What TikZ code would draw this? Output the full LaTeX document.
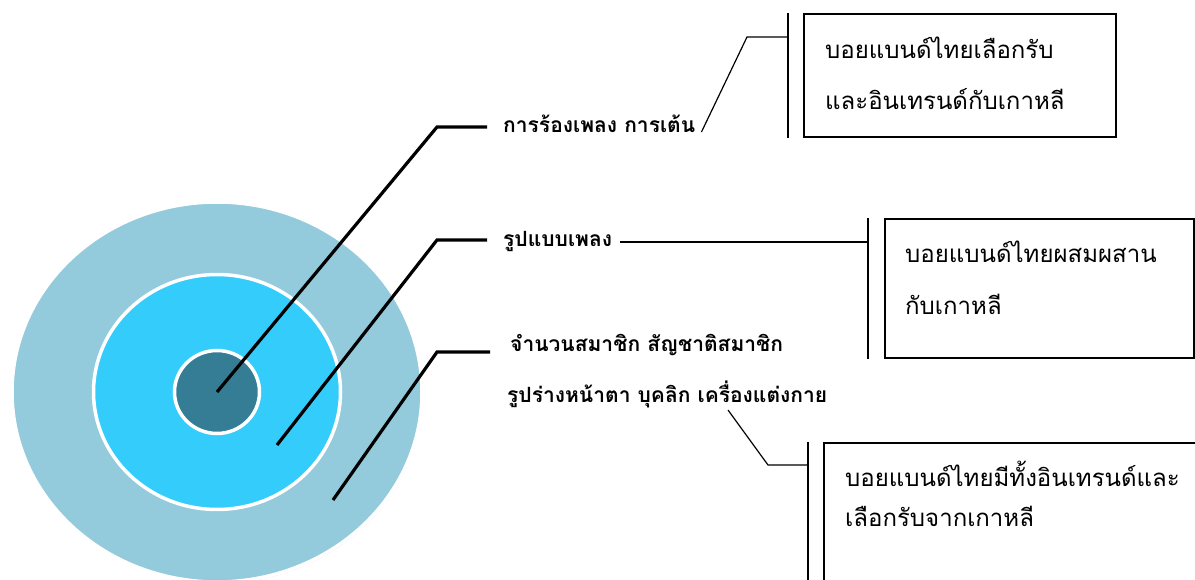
\documentclass[tikz,border=0pt]{standalone}
\usepackage{fontspec}
\newfontfamily\thai[Script=Thai]{Loma}
\usetikzlibrary{calc,shapes.geometric,shadows}
\definecolor{ringout}{RGB}{147,202,220}
\definecolor{ringmid}{RGB}{52,204,250}
\definecolor{ringin}{RGB}{52,125,148}
\tikzset{
    ring/.style={ellipse,draw=white,line width=3.5pt,inner sep=0pt,
        drop shadow={opacity=0.25,shadow xshift=1pt,shadow yshift=-1.5pt}},
    lead/.style={line width=3.2pt},
    link/.style={line width=1.2pt},
    lbl/.style={font=\thai\bfseries\fontsize{21}{24}\selectfont,anchor=base west,inner sep=0pt},
    bt/.style={font=\thai\fontsize{24}{27}\selectfont,anchor=base west,inner sep=0pt},
    bx/.style={draw,line width=1.6pt,anchor=north west,inner sep=0pt}
}

\begin{document}
\begin{tikzpicture}[x=1pt,y=-1pt]
    \useasboundingbox (0,0) rectangle (1195,580);
    \clip (0,0) rectangle (1195,580);

    \node[ring,fill=ringout,minimum width=410,minimum height=380] (cout) at (217,392) {};
    \node[ring,fill=ringmid,minimum width=247,minimum height=235] (cmd) at (217,392) {};
    \node[ring,fill=ringin,minimum width=85,minimum height=83] (cin) at (217,392) {};

    \node[lbl] (lsg) at (503,133) {การร้องเพลง การเต้น};
    \node[lbl] (lfm) at (503,247) {รูปแบบเพลง};
    \node[lbl] (lmb) at (510,352) {จำนวนสมาชิก สัญชาติสมาชิก};
    \node[lbl] (lap) at (507,402) {รูปร่างหน้าตา บุคลิก เครื่องแต่งกาย};

    \coordinate (ka) at (437,127);
    \coordinate (kb) at (437,240);
    \coordinate (kc) at (437,352);
    \coordinate (pb) at (277,445);
    \coordinate (pc) at (333,500);
    \draw[lead] (cin.center) -- (ka) -- ($(lsg.west |- ka)+(-16,0)$);
    \draw[lead] (pb) -- (kb) -- ($(lfm.west |- kb)+(-16,0)$);
    \draw[lead] (pc) -- (kc) -- ($(lmb.west |- kc)+(-20,0)$);

    \node[bx,minimum width=312,minimum height=123] (bxa) at (803,13) {};
    \node[bt] (bxa1) at (825,59) {บอยแบนด์ไทยเลือกรับ};
    \node[bt] (bxa2) at (825,110) {และอินเทรนด์กับเกาหลี};

    \node[bx,minimum width=309,minimum height=139] (bxb) at (884,218) {};
    \node[bt] (bxb1) at (905,263) {บอยแบนด์ไทยผสมผสาน};
    \node[bt] (bxb2) at (905,315) {กับเกาหลี};

    \node[bx,minimum width=400,minimum height=200] (bxc) at (823,442) {};
    \node[bt] (bxc1) at (845,486) {บอยแบนด์ไทยมีทั้งอินเทรนด์และ};
    \node[bt] (bxc2) at (845,526) {เลือกรับจากเกาหลี};

    \coordinate (bra) at ($(bxa.west)+(-15,0)$);
    \coordinate (brb) at ($(bxb.west)+(-16,0)$);
    \coordinate (brc) at ($(bxc.west)+(-15,0)$);
    \draw[link] (bra |- bxa.north) -- (bra |- bxa.south);
    \draw[link] (brb |- bxb.north) -- (brb |- bxb.south);
    \draw[link] (brc |- bxc.north) -- (brc |- bxc.south);

    \coordinate (ja) at (747,37);
    \coordinate (jc0) at (728,410);
    \coordinate (jc) at (768,465);
    \draw[link] ($(lsg.base east)+(6,-1)$) -- (ja) -- (ja -| bra);
    \draw[link] ($(lfm.base east)+(8,-5)$) -- +(0,0) -| (brb);
    \draw[link] (jc0) -- (jc) -- (jc -| brc);
\end{tikzpicture}
\end{document}
